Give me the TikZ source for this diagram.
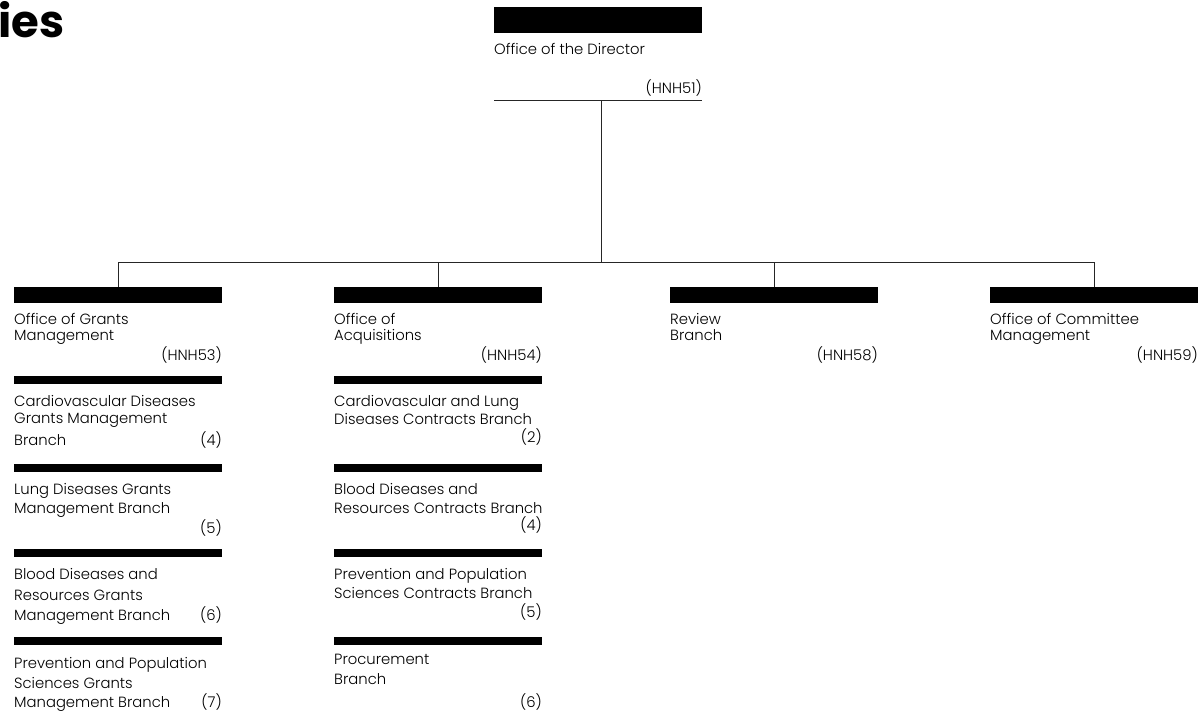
\documentclass[tikz,border=0pt]{standalone}
\usepackage{fontspec}
\IfFontExistsTF{Poppins Light}{\setmainfont{Poppins Light}}{\setmainfont{Poppins}}
\IfFontExistsTF{Poppins Bold}{\newfontfamily\titlef{Poppins Bold}}{\newfontfamily\titlef{Poppins}[FakeBold=3]}
\newcommand\tfnt{\fontsize{14.8}{17}\selectfont}
\tikzset{
  bigbar/.style={fill=black, draw=none, inner sep=0, anchor=north west, minimum width=208pt, minimum height=16pt},
  smallbar/.style={fill=black, draw=none, inner sep=0, anchor=north west, minimum width=208pt, minimum height=8pt},
  tl/.style={anchor=base west, inner sep=0, font=\tfnt},
  tr/.style={anchor=base east, inner sep=0, font=\tfnt},
  conn/.style={line width=1pt, draw=black!85}
}
\begin{document}
\begin{tikzpicture}[x=1pt,y=-1pt]
\useasboundingbox (0,0) rectangle (1203,716);
% title fragment
\node[anchor=base west, inner sep=0, font=\titlef\fontsize{45}{45}\selectfont] (title) at (-2,37) {ies};
% director
\node[bigbar, minimum height=26pt] (dirbar) at (494,7) {};
\node[tl] (dir1) at (494,54) {Office of the Director};
\node[tr] (dirn) at (702,93) {(HNH51)};
\coordinate (dirL) at (494,100);
\coordinate (dirR) at (702,100);
\coordinate (dirM) at (601,100);
\draw[conn] (dirL) -- (dirR);
\coordinate (bus) at (0,262);
% column bars
\node[bigbar] (gm) at (14,287) {};
\node[bigbar] (acq) at (334,287) {};
\node[bigbar] (rev) at (670,287) {};
\node[bigbar] (com) at (990,287) {};
% connectors
\draw[conn] (dirM) -- (dirM |- bus);
\draw[conn] (gm.north) -- (gm.north |- bus) -| (com.north);
\draw[conn] (acq.north |- bus) -- (acq.north);
\draw[conn] (rev.north |- bus) -- (rev.north);
% column 1
\node[tl] (gm1) at (14,324) {Office of Grants};
\node[tl] (gm2) at (14,340) {Management};
\node[tr] (gmn) at (222,360) {(HNH53)};
\node[smallbar] (c1b1) at (14,376) {};
\node[tl] (c1a1) at (14,406) {Cardiovascular Diseases};
\node[tl] (c1a2) at (14,423) {Grants Management};
\node[tl] (c1a3) at (14,445) {Branch};
\node[tr] (c1an) at (222,445) {(4)};
\node[smallbar] (c1b2) at (14,464) {};
\node[tl] (c1b1t) at (14,494) {Lung Diseases Grants};
\node[tl] (c1b2t) at (14,513) {Management Branch};
\node[tr] (c1bn) at (222,533) {(5)};
\node[smallbar] (c1b3) at (14,549) {};
\node[tl] (c1c1) at (14,579) {Blood Diseases and};
\node[tl] (c1c2) at (14,600) {Resources Grants};
\node[tl] (c1c3) at (14,620) {Management Branch};
\node[tr] (c1cn) at (222,620) {(6)};
\node[smallbar] (c1b4) at (14,637) {};
\node[tl] (c1d1) at (14,668) {Prevention and Population};
\node[tl] (c1d2) at (14,688) {Sciences Grants};
\node[tl] (c1d3) at (14,707) {Management Branch};
\node[tr] (c1dn) at (222,707) {(7)};
% column 2
\node[tl] (acq1) at (334,324) {Office of};
\node[tl] (acq2) at (334,340) {Acquisitions};
\node[tr] (acqn) at (542,360) {(HNH54)};
\node[smallbar] (c2b1) at (334,376) {};
\node[tl] (c2a1) at (334,406) {Cardiovascular and Lung};
\node[tl] (c2a2) at (334,424) {Diseases Contracts Branch};
\node[tr] (c2an) at (542,442) {(2)};
\node[smallbar] (c2b2) at (334,464) {};
\node[tl] (c2b1t) at (334,494) {Blood Diseases and};
\node[tl] (c2b2t) at (334,513) {Resources Contracts Branch};
\node[tr] (c2bn) at (542,530) {(4)};
\node[smallbar] (c2b3) at (334,549) {};
\node[tl] (c2c1) at (334,579) {Prevention and Population};
\node[tl] (c2c2) at (334,598) {Sciences Contracts Branch};
\node[tr] (c2cn) at (542,617) {(5)};
\node[smallbar] (c2b4) at (334,637) {};
\node[tl] (c2d1) at (334,664) {Procurement};
\node[tl] (c2d2) at (334,684) {Branch};
\node[tr] (c2dn) at (542,707) {(6)};
% column 3
\node[tl] (rev1) at (670,324) {Review};
\node[tl] (rev2) at (670,340) {Branch};
\node[tr] (revn) at (878,360) {(HNH58)};
% column 4
\node[tl] (com1) at (990,324) {Office of Committee};
\node[tl] (com2) at (990,340) {Management};
\node[tr] (comn) at (1198,360) {(HNH59)};
\end{tikzpicture}
\end{document}
